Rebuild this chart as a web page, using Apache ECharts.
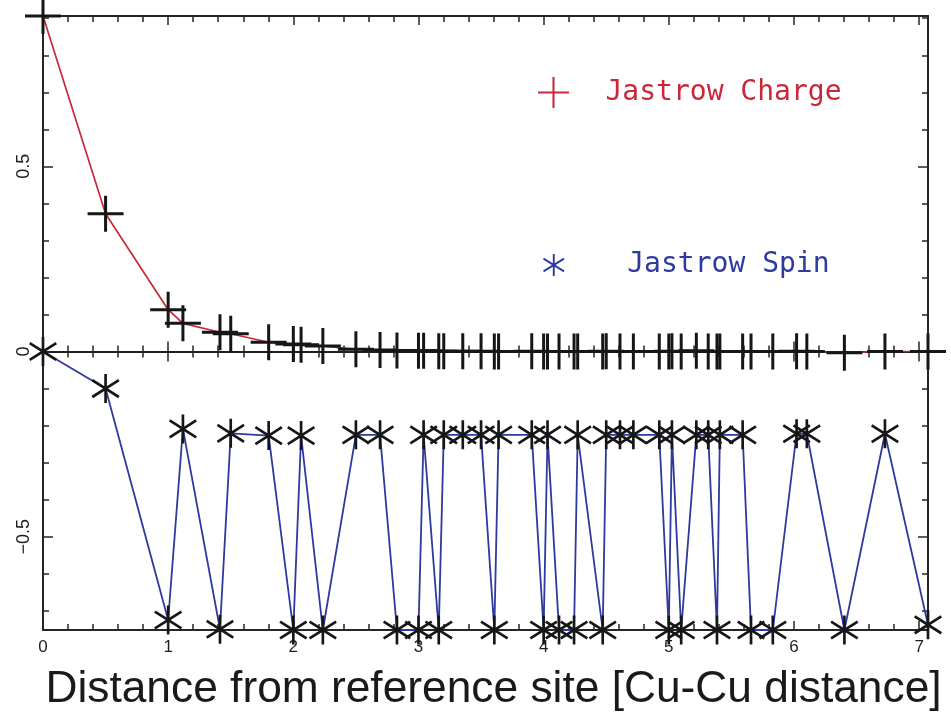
<!DOCTYPE html>
<html>
<head>
<meta charset="utf-8">
<script src="https://cdn.jsdelivr.net/npm/echarts@6/dist/echarts.min.js"></script>
<style>
html,body{margin:0;padding:0;background:#ffffff;}
#chart{width:951px;height:718px;}
</style>
</head>
<body>
<div id="chart"></div>
<script>
// ---- data ----
const distance = [0, 0.5, 1.0, 1.118, 1.414, 1.5, 1.803, 2.0, 2.062, 2.236,
  2.5, 2.693, 2.828, 3.0, 3.041, 3.162, 3.202, 3.354, 3.5, 3.606,
  3.64, 3.905, 4.0, 4.031, 4.123, 4.243, 4.272, 4.472, 4.5, 4.61,
  4.717, 4.924, 5.0, 5.025, 5.099, 5.22, 5.315, 5.385, 5.408, 5.59,
  5.657, 5.831, 6.021, 6.103, 6.403, 6.727, 7.071];
const chargeValues = [0.906, 0.372, 0.113, 0.076, 0.052, 0.048, 0.025, 0.020, 0.018, 0.015,
  0.006, 0.004, 0.003, 0.002, 0.002, 0.001, 0.001, 0.001, 0.001, 0.000,
  0.000, 0.001, 0.000, 0.000, 0.000, 0.000, 0.000, 0.000, 0.001, 0.000,
  0.000, 0.000, 0.000, 0.001, 0.000, 0.002, 0.000, 0.000, 0.000, 0.000,
  0.000, 0.000, 0.001, 0.000, -0.003, 0.000, 0.000];
const spinValues = [0, -0.100, -0.725, -0.209, -0.750, -0.221, -0.227, -0.752, -0.227, -0.752,
  -0.225, -0.225, -0.752, -0.752, -0.225, -0.752, -0.225, -0.225, -0.225, -0.752,
  -0.225, -0.225, -0.752, -0.225, -0.752, -0.752, -0.225, -0.752, -0.225, -0.225,
  -0.225, -0.225, -0.752, -0.225, -0.752, -0.225, -0.225, -0.752, -0.225, -0.225,
  -0.752, -0.752, -0.222, -0.222, -0.752, -0.222, -0.738];
const xTicks = [0, 1, 2, 3, 4, 5, 6, 7];
const yTicks = [-0.5, 0, 0.5];
const seriesNames = ['Jastrow Charge', 'Jastrow Spin'];
const xTitle = 'Distance from reference site [Cu-Cu distance]';

// ---- styles ----
const X_MIN = 0, X_MAX = 7.071, Y_MIN = -0.752, Y_MAX = 0.906;
const axisColor = '#262626';
const markColor = '#161616';
const red = '#c8283a';
const blue = '#2e3a9e';

function bar(angleDeg, L, t) {
  const a = angleDeg * Math.PI / 180;
  const dx = Math.cos(a), dy = -Math.sin(a);
  const nx = Math.sin(a), ny = Math.cos(a);
  const p = [
    [-L * dx - t * nx, -L * dy - t * ny],
    [ L * dx - t * nx,  L * dy - t * ny],
    [ L * dx + t * nx,  L * dy + t * ny],
    [-L * dx + t * nx, -L * dy + t * ny]
  ];
  return 'M' + p.map(q => q[0].toFixed(3) + ',' + q[1].toFixed(3)).join('L') + 'Z';
}
const plusPath = 'path://' + bar(0, 18, 1.5) + bar(90, 18, 1.5);
const plusLegendPath = 'path://' + bar(0, 18, 1.2) + bar(90, 18, 1.2);
const starPath = 'path://' + bar(90, 15, 1.4) + bar(32, 16.5, 1.4) + bar(-32, 16.5, 1.4);
const starLegendPath = 'path://' + bar(90, 15, 1.3) + bar(32, 16.5, 1.3) + bar(-32, 16.5, 1.3);

const tickLine = { color: axisColor, width: 1.5 };
function xAxisBase(extra) {
  return Object.assign({
    type: 'value', min: X_MIN, max: X_MAX, interval: 1,
    splitLine: { show: false },
    axisLabel: { show: false },
    axisTick: { inside: true, length: 9, lineStyle: tickLine },
    minorTick: { show: true, splitNumber: 5, length: 6, lineStyle: tickLine },
    axisLine: { onZero: false, lineStyle: { color: axisColor, width: 2 } }
  }, extra);
}
function yAxisBase(extra) {
  return Object.assign({
    type: 'value', min: Y_MIN, max: Y_MAX, minInterval: 0.5, maxInterval: 0.5,
    splitLine: { show: false },
    axisLabel: { show: false },
    axisTick: { inside: true, length: 10, lineStyle: tickLine },
    minorTick: { show: true, splitNumber: 5, length: 6, lineStyle: tickLine },
    axisLine: { onZero: false, lineStyle: { color: axisColor, width: 2 } }
  }, extra);
}

const chart = echarts.init(document.getElementById('chart'), null, { renderer: 'canvas' });
const option = {
  animation: false,
  backgroundColor: '#ffffff',
  grid: { left: 43, top: 16, width: 885, height: 614, containLabel: false },
  legend: [
    {
      data: [{ name: seriesNames[0], icon: plusLegendPath, itemStyle: { color: red, borderWidth: 0 },
               textStyle: { color: red } }],
      left: 533, top: 72, itemWidth: 32, itemHeight: 31, selectedMode: false,
      textStyle: { fontFamily: 'DejaVu Sans Mono', fontSize: 28, color: red, padding: [0, 0, 8, 31] }
    },
    {
      data: [{ name: seriesNames[1], icon: starLegendPath, itemStyle: { color: blue, borderWidth: 0 },
               textStyle: { color: blue } }],
      left: 538, top: 246, itemWidth: 25, itemHeight: 22, selectedMode: false,
      textStyle: { fontFamily: 'DejaVu Sans Mono', fontSize: 28, color: blue, padding: [0, 0, 18, 56] }
    }
  ],
  xAxis: [
    xAxisBase({
      position: 'bottom',
      axisLabel: {
        show: true, margin: 9, fontSize: 17, color: '#1e1e1e', fontFamily: 'Liberation Sans',
        showMaxLabel: false,
        formatter: v => (xTicks.indexOf(Math.round(v * 1000) / 1000) >= 0 ? String(v) : '')
      },
      name: xTitle, nameLocation: 'middle', nameGap: 38,
      nameTextStyle: { fontSize: 44.3, fontFamily: 'Liberation Sans', color: '#1a1a1a', padding: [0, 0, 0, 16] }
    }),
    xAxisBase({ position: 'top' }),
    xAxisBase({ position: 'bottom',
      axisTick: { inside: true, length: 10, lineStyle: tickLine },
      axisLine: { onZero: true, onZeroAxisIndex: 0, lineStyle: { color: '#1e1e1e', width: 2 } } }),
    xAxisBase({ position: 'top',
      axisTick: { inside: true, length: 10, lineStyle: tickLine },
      axisLine: { show: false, onZero: true, onZeroAxisIndex: 0, lineStyle: { color: '#1e1e1e', width: 2 } } })
  ],
  yAxis: [
    yAxisBase({
      position: 'left',
      axisLabel: {
        show: true, rotate: 90, margin: 10, fontSize: 18, color: '#1e1e1e', fontFamily: 'Liberation Sans',
        showMinLabel: false, showMaxLabel: false,
        formatter: v => {
          const r = Math.round(v * 1000) / 1000;
          return yTicks.indexOf(r) >= 0 ? String(r).replace('-', '\u2212') : '';
        }
      }
    }),
    yAxisBase({ position: 'right' })
  ],
  series: [
    {
      name: seriesNames[1], type: 'line', xAxisIndex: 0, yAxisIndex: 0,
      data: distance.map((d, i) => [d, spinValues[i]]),
      symbol: starPath, symbolSize: [28, 29],
      itemStyle: { color: markColor, borderWidth: 0 },
      lineStyle: { color: blue, width: 1.8 },
      clip: false, z: 3, emphasis: { disabled: true }, silent: true
    },
    {
      name: seriesNames[0], type: 'line', xAxisIndex: 0, yAxisIndex: 0,
      data: distance.map((d, i) => [d, chargeValues[i]]),
      symbol: plusPath, symbolSize: [36, 36],
      itemStyle: { color: markColor, borderWidth: 0 },
      lineStyle: { color: red, width: 1.7 },
      clip: false, z: 4, emphasis: { disabled: true }, silent: true
    }
  ]
};
chart.setOption(option);
</script>
</body>
</html>
